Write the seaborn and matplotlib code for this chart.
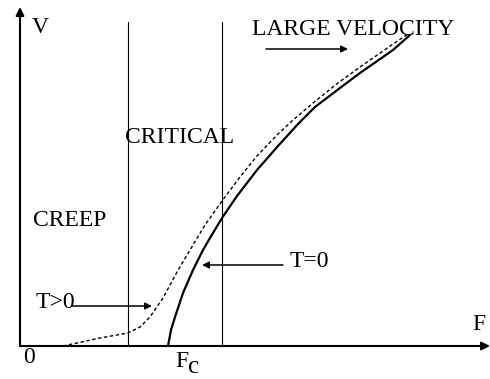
import matplotlib
matplotlib.use("Agg")
import matplotlib.pyplot as plt
import seaborn as sns

# Velocity-force curves (F, V), arbitrary units
f_creep = [0.43, 0.80, 1.08, 1.20, 1.30, 1.43, 1.57, 1.70, 1.85, 2.02, 2.20,
           2.37, 2.58, 2.72, 2.93, 3.18, 3.40, 3.53, 3.73, 3.88]
v_creep = [0.00, 0.08, 0.13, 0.19, 0.29, 0.48, 0.74, 0.96, 1.21, 1.45, 1.69,
           1.90, 2.12, 2.25, 2.43, 2.63, 2.79, 2.88, 3.02, 3.12]

f_zero = [1.48, 1.51, 1.55, 1.63, 1.73, 1.83, 1.90, 2.02, 2.17, 2.37, 2.58,
          2.78, 2.95, 3.20, 3.40, 3.73, 3.90]
v_zero = [0.00, 0.16, 0.29, 0.53, 0.76, 0.96, 1.08, 1.28, 1.50, 1.76, 2.00,
          2.22, 2.39, 2.58, 2.73, 2.96, 3.11]

# Regime boundaries
boundaries = [1.08, 2.02]
boundary_top = 3.24

F_MAX, V_MAX = 4.70, 3.39

sns.set_theme(style="white")
plt.rcParams["font.family"] = ["Liberation Serif", "DejaVu Serif"]

fig = plt.figure(figsize=(4.9, 3.79), dpi=100)
ax = fig.add_axes([20 / 490, 33 / 379, 470 / 490, 339 / 379])
ax.set_xlim(0, F_MAX)
ax.set_ylim(0, V_MAX)
ax.axis("off")

# Curves
sns.lineplot(x=f_creep, y=v_creep, sort=False, estimator=None, color="black",
             lw=1.0, ax=ax)
ax.get_lines()[-1].set_linestyle((0, (2.5, 1.8)))
sns.lineplot(x=f_zero, y=v_zero, sort=False, estimator=None, color="black",
             lw=1.6, ax=ax)
for ln in ax.get_lines():
    ln.set_solid_joinstyle("round")
    ln.set_dash_joinstyle("round")

# Vertical regime lines
for b in boundaries:
    ax.plot([b, b], [0, boundary_top], color="black", lw=0.8)

# Coordinate axes with arrowheads
axis_arrow = dict(arrowstyle="-|>", color="black", lw=1.5, mutation_scale=12,
                  shrinkA=0, shrinkB=0)
ax.annotate("", xy=(F_MAX, 0), xytext=(0, 0), arrowprops=axis_arrow,
            annotation_clip=False)
ax.annotate("", xy=(0, V_MAX), xytext=(0, 0), arrowprops=axis_arrow,
            annotation_clip=False)

# Pointer arrows
pointer = dict(arrowstyle="-|>", color="black", lw=1.1, mutation_scale=10,
               shrinkA=0, shrinkB=0)
ax.annotate("", xy=(3.28, 2.97), xytext=(2.46, 2.97), arrowprops=pointer)
ax.annotate("", xy=(1.32, 0.40), xytext=(0.52, 0.40), arrowprops=pointer)
ax.annotate("", xy=(1.82, 0.81), xytext=(2.63, 0.81), arrowprops=pointer)

fs = 17
txt = dict(fontsize=fs, color="black", va="baseline", ha="left",
           clip_on=False)
ax.text(0.12, 3.13, "V", **txt)
ax.text(1.05, 2.03, "CRITICAL", **txt)
ax.text(2.32, 3.11, "LARGE VELOCITY", **txt)
ax.text(0.13, 1.20, "CREEP", **txt)
ax.text(0.16, 0.38, "T>0", **txt)
ax.text(2.70, 0.79, "T=0", **txt)
ax.text(4.52, 0.16, "F", **txt)
ax.text(0.03, -0.17, "0", **txt)
ax.text(1.55, -0.21, "F", **txt)
ax.text(1.675, -0.27, "c", **dict(txt, fontsize=18))

fig.savefig("out.png", dpi=100, facecolor="white")
